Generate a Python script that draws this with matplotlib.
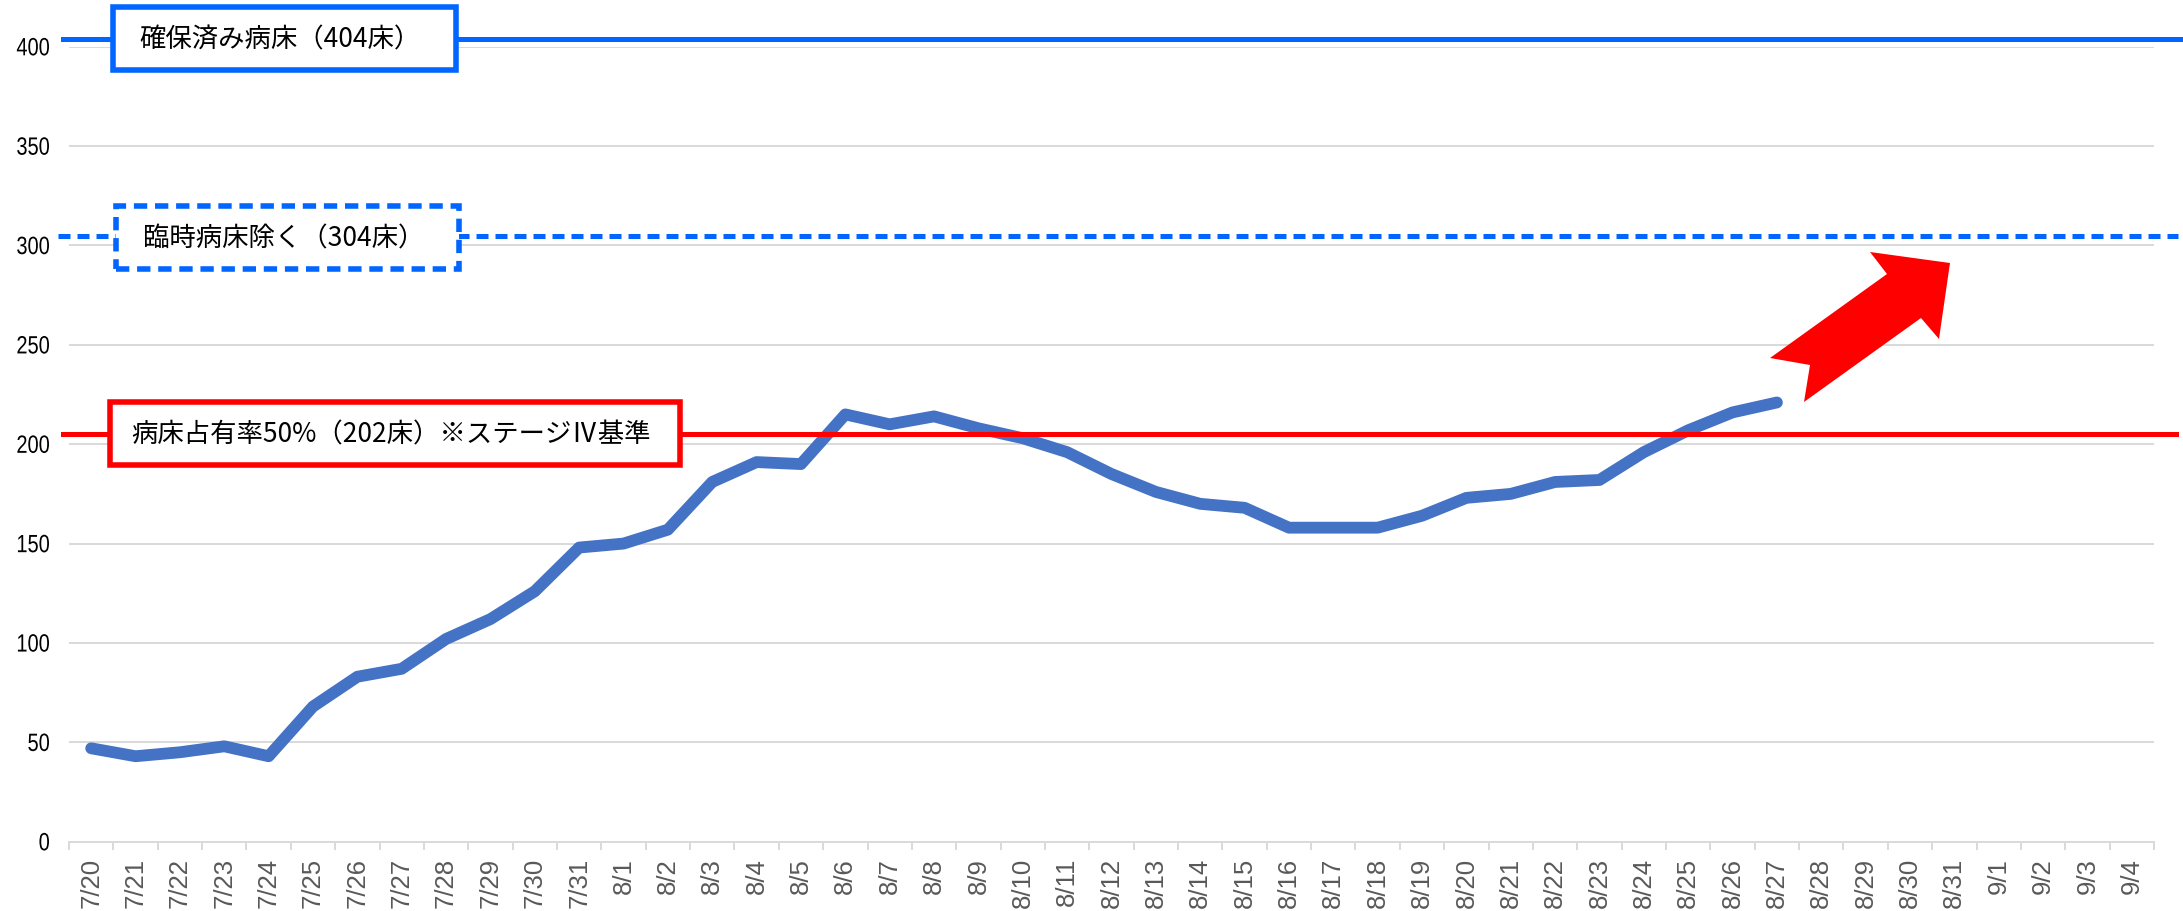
import matplotlib
matplotlib.use("Agg")
import matplotlib.pyplot as plt
from matplotlib.patches import Rectangle, Polygon, PathPatch
from matplotlib.transforms import blended_transform_factory, Affine2D
from matplotlib.textpath import TextPath
from matplotlib.font_manager import FontProperties

# ---------------- data ----------------
dates = ["7/20", "7/21", "7/22", "7/23", "7/24", "7/25", "7/26", "7/27", "7/28", "7/29",
         "7/30", "7/31", "8/1", "8/2", "8/3", "8/4", "8/5", "8/6", "8/7", "8/8",
         "8/9", "8/10", "8/11", "8/12", "8/13", "8/14", "8/15", "8/16", "8/17", "8/18",
         "8/19", "8/20", "8/21", "8/22", "8/23", "8/24", "8/25", "8/26", "8/27", "8/28",
         "8/29", "8/30", "8/31", "9/1", "9/2", "9/3", "9/4"]
patients = [47, 43, 45, 48, 43, 68, 83, 87, 102, 112, 126, 148,
            150, 157, 181, 191, 190, 215, 210, 214, 208, 203, 196, 185, 176,
            170, 168, 158, 158, 158, 164, 173, 175, 181, 182, 196, 207, 216, 221]
y_ticks = [0, 50, 100, 150, 200, 250, 300, 350, 400]

ref_levels = [404, 305, 205]
ref_labels = ["確保済み病床（404床）", "臨時病床除く（304床）", "病床占有率50%（202床）※ステージⅣ基準"]
ref_colors = ["#0066FF", "#0066FF", "#FF0000"]
ref_styles = ["solid", "dashed", "solid"]

cjk = ["Noto Sans CJK JP", "DejaVu Sans"]

W, H = 2183, 912
DPI = 100
fig = plt.figure(figsize=(W / DPI, H / DPI), dpi=DPI)
L, R, B, T = 69, 2154, 842.7, 47.7
ax = fig.add_axes([L / W, 1 - B / H, (R - L) / W, (B - T) / H])

grid_c = "#D9D9D9"
ax.set_xlim(-0.5, len(dates) - 0.5)
ax.set_ylim(0, 400)
ax.set_yticks(y_ticks)
ax.set_yticklabels([])
ax.tick_params(axis="y", length=0)
for v in y_ticks[1:]:
    ax.axhline(v, color=grid_c, lw=1.4, zorder=0)

ax.set_xticks(range(len(dates)))
ax.set_xticklabels(dates, rotation=90, fontfamily="Liberation Sans", fontsize=18.5, color="#595959")
ax.tick_params(axis="x", which="major", length=0, pad=11)
ax.set_xticks([i - 0.5 for i in range(len(dates) + 1)], minor=True)
ax.tick_params(axis="x", which="minor", length=6, width=1.4, color=grid_c, direction="out")

for s in ["left", "right", "top"]:
    ax.spines[s].set_visible(False)
ax.spines["bottom"].set_color(grid_c)
ax.spines["bottom"].set_linewidth(1.4)

# condensed y tick labels (narrow font look)
yprop = FontProperties(family="Liberation Sans")
ysize_px = 25.0
for v in y_ticks:
    tp = TextPath((0, 0), str(v), size=ysize_px, prop=yprop)
    bb = tp.get_extents()
    # position in display pixels (fig pixel coords from bottom)
    py = (1 - B / H) * H + v * (B - T) / 400
    tr = Affine2D().translate(-bb.x1, -(bb.y0 + bb.y1) / 2).scale(0.8, 1.0).translate(L - 20, py)
    fig.patches.append(PathPatch(tr.transform_path(tp), facecolor="black", edgecolor="none",
                                 transform=None))

# data line
ax.plot(range(len(patients)), patients, color="#4472C4", lw=8.5,
        solid_capstyle="round", solid_joinstyle="round", zorder=3)

# reference lines and labelled boxes
def fx(px):
    return (px - L) / (R - L)

def dy(py):
    return (B - py) / ((B - T) / 400)

trans = blended_transform_factory(ax.transAxes, ax.transData)
line_ext = [(63, 2180), (58, 2178), (63, 2176)]
boxes = [(113, 456, 8, 71), (116, 459, 207, 270), (110, 680, 403, 466)]
for lvl, lab, col, sty, ext, bx in zip(ref_levels, ref_labels, ref_colors, ref_styles, line_ext, boxes):
    ls = (0, (2.4, 1.4)) if sty == "dashed" else "-"
    ax.axhline(lvl, xmin=fx(ext[0]), xmax=fx(ext[1]), color=col, lw=3.6,
               linestyle=ls, clip_on=False, zorder=4)
    x0, x1, y0, y1 = bx
    rect = Rectangle((fx(x0), dy(y1)), fx(x1) - fx(x0), dy(y0) - dy(y1), transform=trans,
                     facecolor="white", edgecolor=col, lw=4, linestyle=ls,
                     clip_on=False, zorder=5)
    ax.add_patch(rect)
    ax.text(fx((x0 + x1) / 2 - 4), (dy(y0) + dy(y1)) / 2, lab, transform=trans,
            ha="center", va="center", fontsize=19, family=cjk, color="black", zorder=6)

# red arrow (decorative)
arrow_px = [(1950, 264), (1870, 253), (1887, 275), (1770, 359), (1810, 366),
            (1804, 403), (1921, 319), (1939, 340)]
poly = Polygon([(x / W, 1 - y / H) for x, y in arrow_px], closed=True,
               transform=fig.transFigure, facecolor="#FF0000", edgecolor="none", zorder=10)
fig.patches.append(poly)

fig.savefig("out.png", dpi=DPI, facecolor="white")
